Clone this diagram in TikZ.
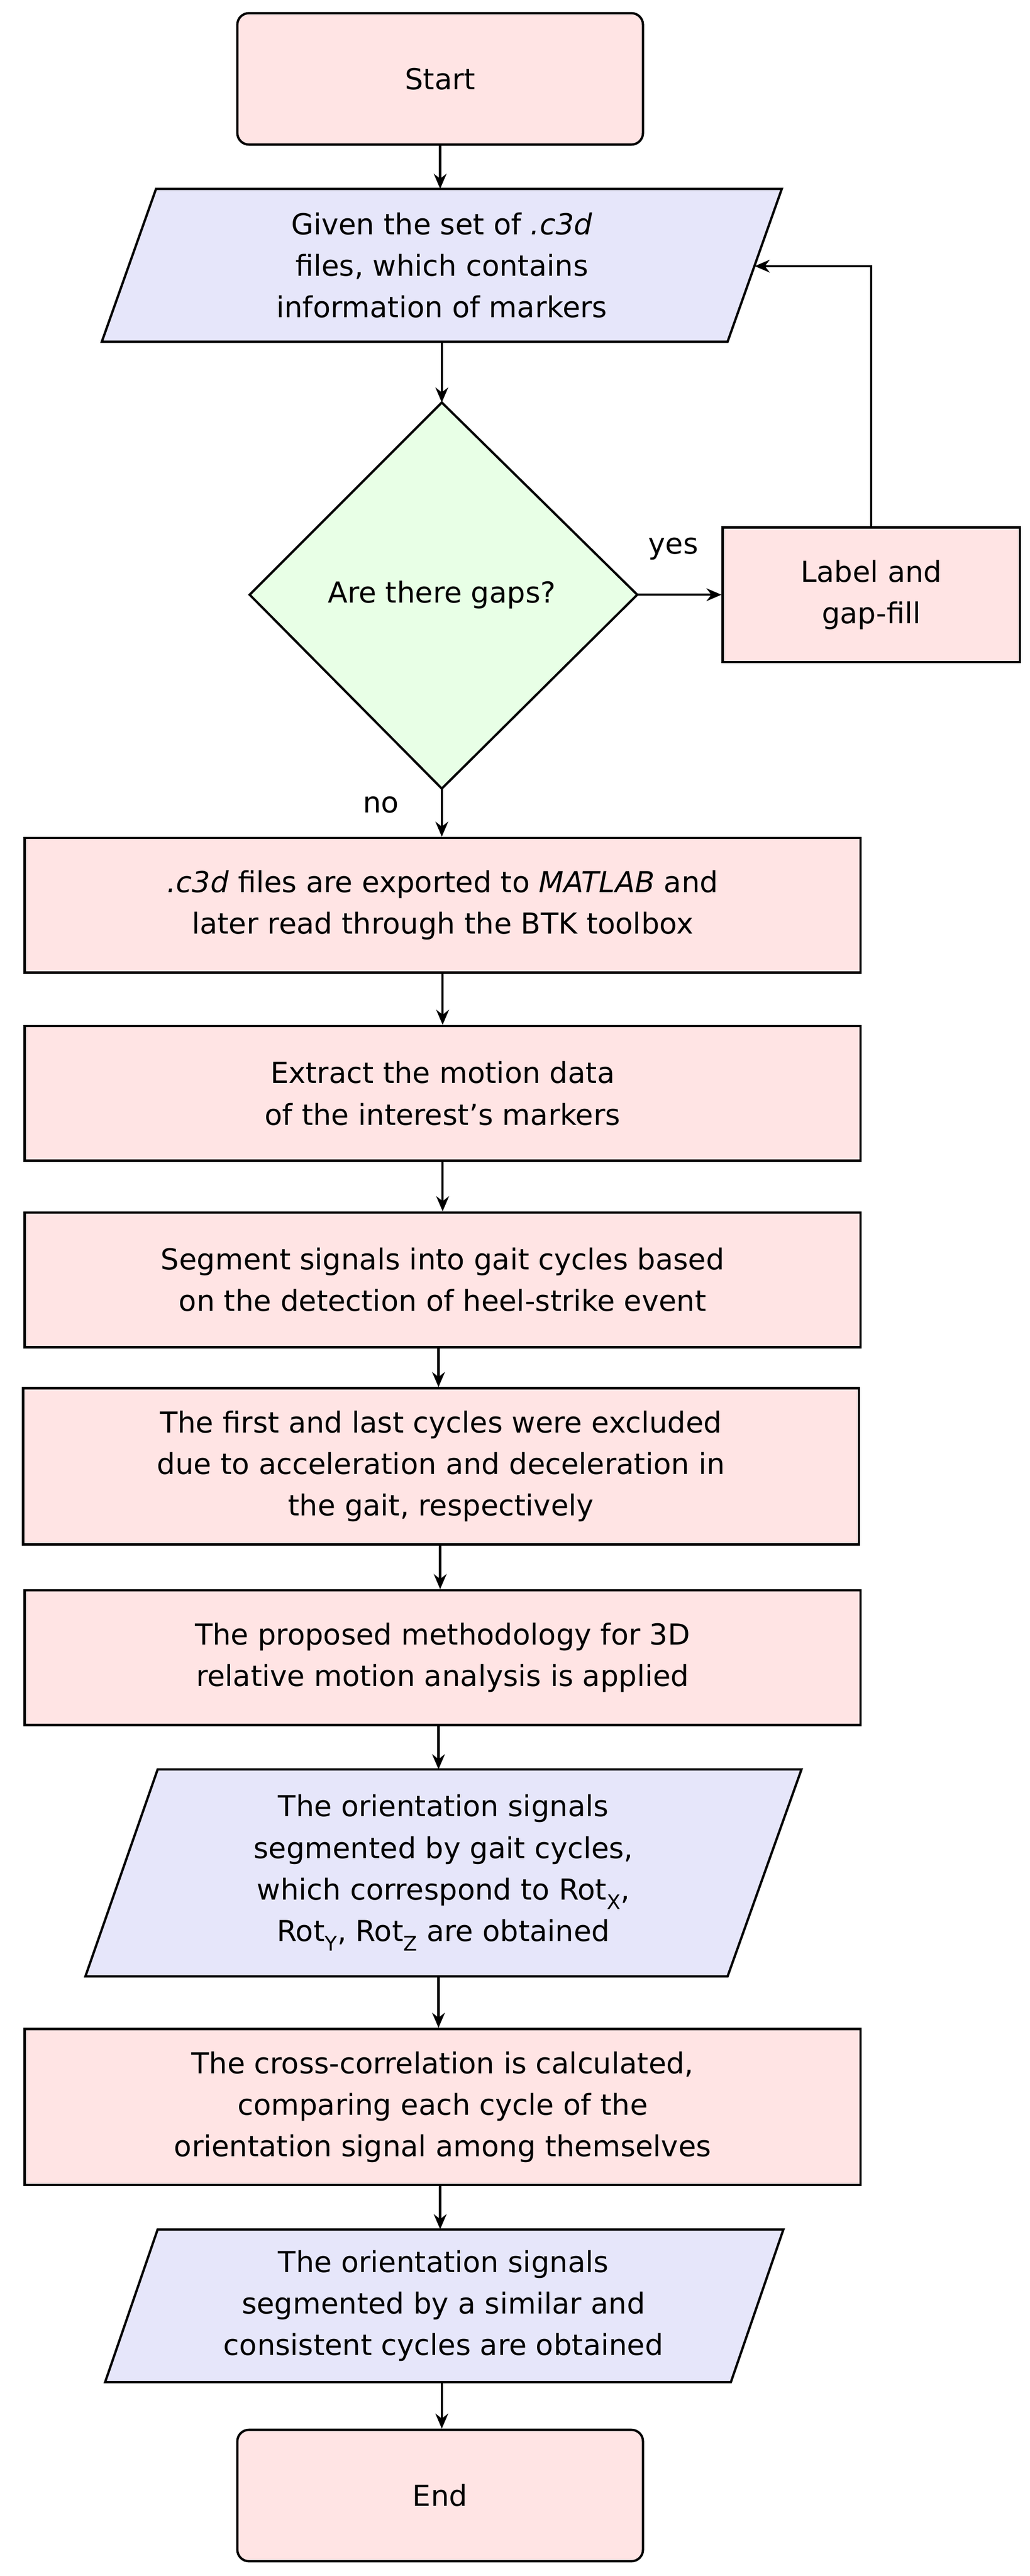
\documentclass[tikz,border=0pt]{standalone}
\usepackage{fontspec}
\setmainfont{DejaVu Sans}
\usetikzlibrary{arrows.meta}
\definecolor{pk}{HTML}{FFE4E4}
\definecolor{bl}{HTML}{E6E6FA}
\definecolor{gr}{HTML}{E8FFE6}
\begin{document}
\begin{tikzpicture}[x=0.1cm,y=-0.1cm,
  every node/.style={font=\fontsize{50}{72}\selectfont, align=center, inner sep=0pt},
  box/.style={draw, fill=pk, line width=4pt, minimum width=50.9cm, minimum height=8.2cm},
  rbox/.style={box, rounded corners=20pt, minimum width=24.7cm, minimum height=8cm},
  para/.style={draw=none, minimum height=9.3cm, minimum width=34cm},
  pl/.style={draw, fill=bl, line width=4pt},
  arr/.style={line width=4pt, -{Stealth[length=26pt,width=22pt]}}]
\useasboundingbox (0,0) rectangle (627,1568);
\node[rbox] (start) at (268,48) {Start};
% para1
\filldraw[pl] (95,115) -- (476,115) -- (443,208) -- (62,208) -- cycle;
\node[para] (p1) at (269,161.5) {Given the set of \textit{.c3d}\\files, which contains\\information of markers};
\coordinate (p1r) at (459.5,162);
% diamond
\filldraw[draw, fill=gr, line width=4pt] (269,245) -- (388,362) -- (269,480) -- (152,362) -- cycle;
\node (dia) at (269,362) {Are there gaps?};
\coordinate (dT) at (269,245); \coordinate (dB) at (269,480); \coordinate (dR) at (388,362);
\node[box, minimum width=18.1cm] (lab) at (530.5,362) {Label and\\gap-fill};
\node at (410,334) {yes};
\node at (232,490) {no};
\node[box] (b1) at (269.5,551) {\textit{.c3d} files are exported to \textit{MATLAB} and\\later read through the BTK toolbox};
\node[box] (b2) at (269.5,665.5) {Extract the motion data\\of the interest's markers};
\node[box] (b3) at (269.5,779) {Segment signals into gait cycles based\\on the detection of heel-strike event};
\node[box, minimum height=9.5cm] (b4) at (268.5,892.5) {The first and last cycles were excluded\\due to acceleration and deceleration in\\the gait, respectively};
\node[box] (b5) at (269.5,1009) {The proposed methodology for 3D\\relative motion analysis is applied};
\filldraw[pl] (96,1077) -- (488,1077) -- (443,1203) -- (52,1203) -- cycle;
\node[para, minimum height=12.6cm] (p2) at (270,1140) {The orientation signals\\segmented by gait cycles,\\which correspond to Rot\textsubscript{X},\\Rot\textsubscript{Y}, Rot\textsubscript{Z} are obtained};
\node[box, minimum height=9.5cm] (b6) at (269.5,1282.5) {The cross-correlation is calculated,\\comparing each cycle of the\\orientation signal among themselves};
\filldraw[pl] (96,1357) -- (477,1357) -- (445,1450) -- (64,1450) -- cycle;
\node[para] (p3) at (270,1403.5) {The orientation signals\\segmented by a similar and\\consistent cycles are obtained};
\node[rbox] (end) at (268,1519) {End};
\draw[arr] (start) -- (start|-p1.north);
\draw[arr] (p1.south-|dT) -- (dT);
\draw[arr] (dR) -- (lab.west);
\draw[arr] (lab.north) |- (p1r);
\draw[arr] (dB) -- (b1.north-|dB);
\draw[arr] (b1) -- (b2);
\draw[arr] (b2) -- (b3);
\draw[arr] (b3.south-|267,0) -- (b4.north-|267,0);
\draw[arr] (b4.south-|268,0) -- (b5.north-|268,0);
\draw[arr] (b5.south-|267,0) -- (p2.north-|267,0);
\draw[arr] (p2.south-|267,0) -- (b6.north-|267,0);
\draw[arr] (b6.south-|268,0) -- (p3.north-|268,0);
\draw[arr] (p3.south-|269,0) -- (end.north-|269,0);
\end{tikzpicture}
\end{document}
